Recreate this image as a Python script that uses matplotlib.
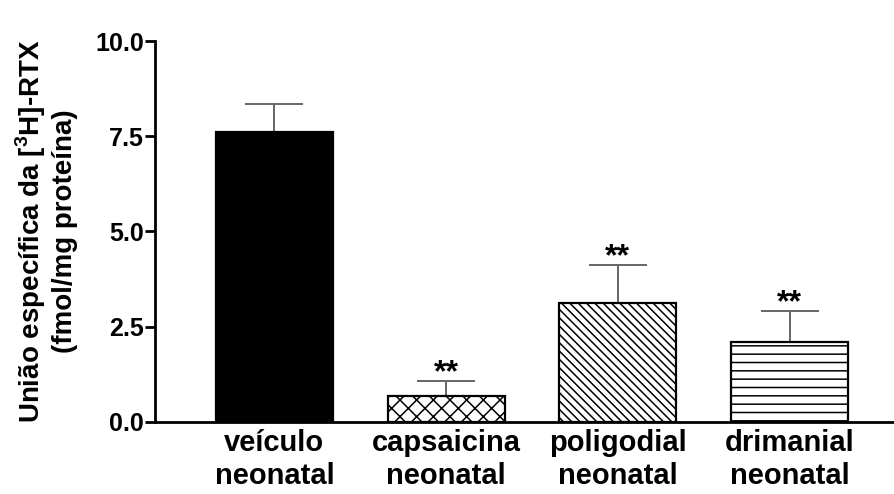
import matplotlib
matplotlib.use('Agg')
import matplotlib.pyplot as plt
import numpy as np

groups = ['veículo\nneonatal', 'capsaicina\nneonatal', 'poligodial\nneonatal', 'drimanial\nneonatal']
means = [7.6, 0.68, 3.12, 2.1]
sems = [0.75, 0.40, 1.0, 0.82]
stars = ['', '**', '**', '**']
hatches = [None, 'xx', '\\\\\\\\', '--']
fills = ['black', 'white', 'white', 'white']

plt.rcParams['font.family'] = ['Liberation Sans', 'DejaVu Sans']
plt.rcParams['font.weight'] = 'bold'
plt.rcParams['mathtext.fontset'] = 'custom'
plt.rcParams['mathtext.rm'] = 'Liberation Sans:bold'
plt.rcParams['mathtext.bf'] = 'Liberation Sans:bold'
plt.rcParams['hatch.linewidth'] = 1.1

fig = plt.figure(figsize=(8.95, 4.94), dpi=100)
ax = fig.add_axes([0.173, 0.146, 0.825, 0.771])

x = np.arange(len(groups))
ax.bar(x, means, width=0.68, color=fills, edgecolor='black', linewidth=1.6,
       hatch=hatches, zorder=2)
ax.errorbar(x, means, yerr=[np.zeros(len(sems)), sems], fmt='none', ecolor='#666666',
            elinewidth=1.4, capsize=21, capthick=1.4, zorder=1)
for i in range(len(groups)):
	if stars[i]:
		ax.text(x[i], means[i] + sems[i] - 0.2, stars[i], ha='center', va='bottom',
		        fontsize=23, fontweight='bold')

ax.set_xlim(-0.696, 3.603)
ax.set_ylim(0, 10)
ax.set_yticks([0, 2.5, 5.0, 7.5, 10.0])
ax.set_yticklabels(['0.0', '2.5', '5.0', '7.5', '10.0'], fontsize=18, fontweight='bold')
ax.set_xticks(x)
ax.set_xticklabels(groups, fontsize=21, fontweight='bold', linespacing=1.25)
ax.tick_params(axis='x', length=0, pad=5)
ax.tick_params(axis='y', length=7, width=2, pad=1)
ax.set_ylabel('União específica da [$^{3}$H]-RTX\n(fmol/mg proteína)', fontsize=20,
              fontweight='bold', labelpad=12, linespacing=1.2)

for s in ['top', 'right']:
	ax.spines[s].set_visible(False)
ax.spines['left'].set_linewidth(2)
ax.spines['bottom'].set_linewidth(2)

fig.savefig('out.png', dpi=100)
